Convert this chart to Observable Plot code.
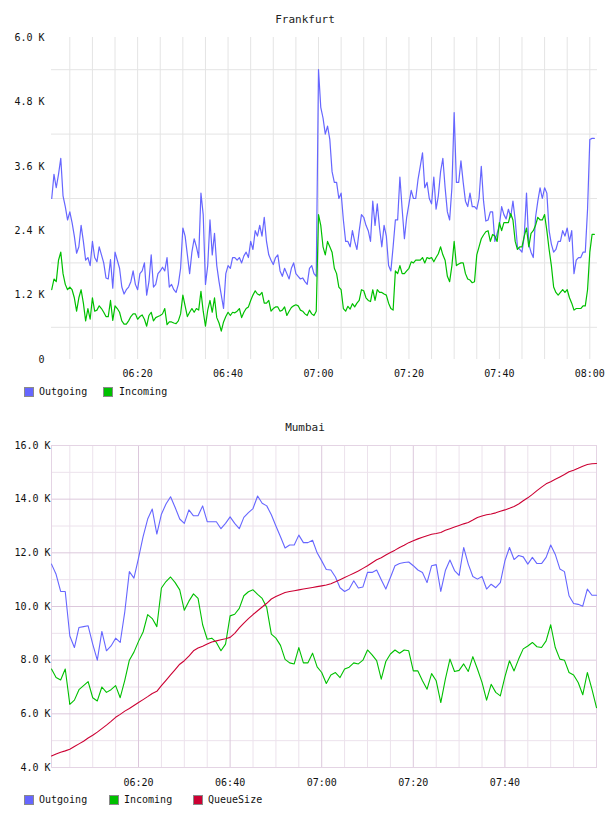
<!DOCTYPE html>
<html><head><meta charset="utf-8">
<script src="https://cdn.jsdelivr.net/npm/d3@7"></script>
<script src="https://cdn.jsdelivr.net/npm/@observablehq/plot@0.6"></script>
<style>
body{margin:0;background:#fff;width:608px;height:816px;position:relative;font-family:"DejaVu Sans Mono",monospace;color:#111;overflow:hidden}
.title{position:absolute;left:0;width:610px;text-align:center;font-size:11px;line-height:12px;color:#222}
.sw{position:absolute;width:8px;height:8px;border:1px solid #8a8a8a}
.lt{position:absolute;font-size:10px;line-height:10px;color:#111;white-space:nowrap}
.chart{position:absolute;left:0}
svg{display:block}
</style></head><body>
<div class="title" style="top:14px">Frankfurt</div>
<div class="chart" id="fra" style="top:28px"></div>
<div id="fraLegend"></div>
<div class="title" style="top:422px">Mumbai</div>
<div class="chart" id="mum" style="top:436px"></div>
<div id="mumLegend"></div>
<script>
// ---------- DATA ----------
// Frankfurt: samples every 30 s starting 06:01, values in thousands
const fraStart = "06:01";
const fraStepSeconds = 30;
const fraOutgoingK = [3.0,3.45,3.2,3.45,3.75,3.05,2.85,2.6,2.75,2.55,2.3,1.98,2.1,2.5,2.2,1.85,1.9,1.75,2.2,1.9,1.82,2.1,1.95,1.8,1.52,1.5,1.86,1.33,2.0,1.85,1.7,1.35,1.22,1.3,1.35,1.45,1.65,1.4,1.3,1.6,1.65,1.8,1.2,1.45,1.95,1.35,1.4,1.6,1.65,1.72,1.65,1.9,1.35,1.4,1.3,1.25,1.4,1.7,2.45,2.3,
1.95,1.6,2.0,2.25,2.1,1.9,3.1,2.7,1.4,1.75,2.6,1.95,2.35,1.75,1.45,1.2,0.95,1.6,1.75,1.7,1.9,1.9,1.85,1.9,1.8,1.93,2.0,1.9,2.2,2.05,2.4,2.3,2.5,2.3,2.65,2.2,1.95,1.85,1.77,1.9,1.95,1.65,1.55,1.7,1.6,1.5,1.7,1.8,1.6,1.55,1.5,1.52,1.45,1.4,1.7,1.75,1.6,1.55,
5.4,4.7,4.5,4.2,4.35,4.1,3.5,3.3,3.3,3.0,3.1,2.6,2.2,2.2,2.1,2.4,2.2,2.05,2.4,2.7,2.65,2.5,2.4,2.2,2.95,2.5,2.9,2.45,2.1,2.5,2.3,1.75,1.65,2.1,2.6,2.6,3.4,2.8,2.25,2.65,2.9,3.15,3.0,3.0,3.35,3.6,3.85,3.2,3.3,3.0,2.9,3.4,2.8,3.05,3.5,3.75,3.2,2.75,2.6,3.2,4.6,3.3,
3.3,3.7,3.3,2.95,2.85,3.1,2.85,2.85,2.8,3.0,3.6,2.95,2.58,2.6,2.75,2.75,2.2,2.35,2.5,2.85,2.7,2.62,2.8,2.65,2.95,2.6,2.1,2.05,2.0,2.3,3.1,2.15,2.0,1.9,2.65,2.95,3.2,3.0,3.2,3.1,2.4,2.15,2.0,2.05,2.2,2.2,2.4,2.3,2.45,2.2,2.4,1.6,1.85,1.9,1.9,2.0,2.0,2.8,4.1,4.12,4.12];
const fraIncomingK = [1.30,1.5,1.45,1.85,2.0,1.6,1.4,1.3,1.35,1.3,1.15,0.9,1.15,1.3,1.05,0.72,0.95,0.75,1.15,0.9,0.92,1.0,0.95,0.88,0.8,0.8,1.1,0.73,1.0,0.95,0.88,0.72,0.66,0.66,0.72,0.8,0.85,0.85,0.75,0.8,0.83,0.75,0.62,0.82,0.88,0.72,0.78,0.8,0.82,0.85,0.95,0.65,0.7,0.7,0.68,0.67,0.72,0.85,1.2,1.0,
0.8,0.88,0.95,0.88,0.95,0.92,1.27,0.9,0.62,0.92,1.1,0.88,1.15,0.78,0.68,0.53,0.7,0.8,0.88,0.82,0.88,0.87,0.9,0.95,0.78,0.88,0.95,0.98,1.1,1.2,1.28,1.22,1.2,1.25,1.05,1.05,1.1,0.9,0.95,0.98,0.98,0.9,0.92,0.98,0.82,0.9,0.97,1.0,1.02,1.0,0.92,0.9,0.85,0.82,0.92,0.85,0.82,0.9,
2.7,2.5,2.1,1.95,2.2,2.1,2.0,1.7,1.6,1.35,1.3,0.95,0.9,0.99,0.94,1.04,0.98,1.05,1.1,1.3,1.28,1.15,1.1,1.08,1.3,1.1,1.3,1.25,1.25,1.22,1.2,1.05,0.95,0.92,1.65,1.6,1.75,1.6,1.6,1.65,1.7,1.82,1.8,1.85,1.85,1.85,1.9,1.8,1.9,1.88,1.9,1.82,1.9,1.97,2.1,1.95,1.85,1.55,1.45,1.75,2.2,1.75,
1.78,1.8,1.8,1.6,1.5,1.48,1.43,1.45,1.95,2.1,2.25,2.32,2.38,2.4,2.2,2.33,2.3,2.2,2.55,2.4,2.55,2.55,2.55,2.72,2.6,2.2,2.05,2.1,2.1,2.3,2.45,2.1,2.35,2.4,2.5,2.65,2.6,2.6,2.7,2.4,2.05,1.75,1.35,1.25,1.2,1.25,1.3,1.25,1.3,1.15,1.05,0.92,0.95,0.95,0.95,1.0,1.0,1.3,2.0,2.33,2.33];

// Mumbai: samples every 60 s starting 06:01, values in thousands
const mumStart = "06:01";
const mumStepSeconds = 60;
const mumOutgoingK = [11.58,11.2,10.56,10.56,8.9,8.47,9.22,9.25,9.28,8.6,8.0,9.07,8.35,8.53,8.82,8.66,9.8,11.3,11.06,11.8,12.6,13.26,13.63,12.7,13.44,13.82,14.09,13.69,13.26,13.1,13.6,13.38,13.38,13.75,13.16,13.16,13.16,12.9,13.1,13.34,13.1,12.9,13.32,13.5,13.65,14.12,13.85,13.75,13.42,13.0,12.6,12.18,12.29,12.29,12.66,12.38,12.38,12.47,12.0,11.7,11.38,11.36,11.1,10.7,10.56,10.65,10.96,10.69,10.73,11.27,11.27,11.36,11.0,10.65,11.08,11.52,11.6,11.64,11.66,11.52,11.36,11.27,10.89,11.52,11.56,10.56,11.34,11.73,11.34,11.16,12.2,11.58,11.12,11.02,11.12,10.65,10.83,10.7,10.89,11.7,12.2,11.75,11.9,11.85,11.58,11.83,11.6,11.6,11.83,12.29,11.94,11.4,11.3,10.4,10.11,10.08,10.01,10.65,10.42,10.42];
const mumIncomingK = [7.67,7.35,7.26,7.67,6.35,6.51,6.9,7.05,7.2,6.6,6.48,7.0,6.8,6.9,7.05,6.6,7.25,8.0,8.3,8.7,9.05,9.7,9.55,9.25,10.69,10.93,11.1,10.89,10.62,9.86,10.2,10.47,10.3,9.32,8.78,8.82,8.66,8.35,8.6,9.65,9.71,9.93,10.4,10.55,10.62,10.45,10.3,9.96,8.97,8.82,8.55,8.03,7.9,7.86,8.47,7.9,7.9,8.26,7.75,7.54,7.13,7.45,7.54,7.35,7.67,7.74,7.9,7.86,8.0,8.38,8.2,7.98,7.29,7.95,8.23,8.38,8.26,8.38,8.35,7.6,7.6,7.23,6.92,7.5,7.23,6.42,7.29,8.04,7.58,7.62,7.86,7.58,8.13,7.67,7.17,6.51,7.1,6.8,6.67,7.38,7.98,7.6,8.04,8.42,8.53,8.66,8.5,8.47,8.72,9.32,8.47,8.04,8.0,7.54,7.45,7.17,6.71,7.54,6.92,6.23];
const mumQueueSizeK = [4.43,4.5,4.57,4.62,4.68,4.78,4.88,4.98,5.1,5.2,5.32,5.45,5.58,5.72,5.87,5.98,6.1,6.2,6.31,6.42,6.53,6.64,6.76,6.84,7.05,7.25,7.45,7.65,7.85,7.98,8.15,8.35,8.45,8.52,8.6,8.68,8.72,8.76,8.8,8.85,9.0,9.2,9.38,9.55,9.7,9.84,9.98,10.12,10.28,10.37,10.45,10.52,10.56,10.59,10.62,10.65,10.68,10.71,10.74,10.77,10.8,10.85,10.92,11.0,11.08,11.16,11.24,11.32,11.42,11.52,11.63,11.74,11.82,11.92,12.01,12.1,12.2,12.28,12.38,12.45,12.52,12.58,12.64,12.69,12.72,12.76,12.84,12.9,12.96,13.02,13.08,13.13,13.22,13.32,13.37,13.42,13.45,13.49,13.55,13.6,13.66,13.73,13.82,13.94,14.05,14.18,14.32,14.45,14.57,14.65,14.74,14.83,14.92,15.02,15.08,15.15,15.23,15.29,15.32,15.33];

// axis tick labels
const fraXTickLabels = ["06:20","06:40","07:00","07:20","07:40","08:00"];
const mumXTickLabels = ["06:20","06:40","07:00","07:20","07:40"];
const fraYTicksK = [0,1.2,2.4,3.6,4.8,6.0];
const fraYGridK = [0.6,1.8,3.0,4.2,5.4];
const mumYTicksK = [4,6,8,10,12,14,16];
const mumYMinorK = [5,7,9,11,13,15];

// series names and colours
const fraSeries = ["Outgoing","Incoming"];
const mumSeries = ["Outgoing","Incoming","QueueSize"];
const seriesColor = {Outgoing:"#6666ff", Incoming:"#00c000", QueueSize:"#cc0033"};

// ---------- HELPERS ----------
const hm = s => { const [h,m,sec] = s.split(":").map(Number); return new Date(Date.UTC(2024,0,1,h,m,sec||0)); };
const series = (start, stepSec, vals) => vals.map((v,i) => ({t: new Date(hm(start).getTime() + i*stepSec*1000), v}));
const fmtK = d => d === 0 ? "0" : d.toFixed(1) + " K";
const fmtT = d3.utcFormat("%H:%M");
const font = {fontFamily:"DejaVu Sans Mono, monospace", fontSize:"10px", color:"#111", background:"white", overflow:"visible"};

// ---------- FRANKFURT ----------
const fraOut = series(fraStart, fraStepSeconds, fraOutgoingK);
const fraIn = series(fraStart, fraStepSeconds, fraIncomingK);
const fraDomain = [hm("06:00:57"), hm("08:01:42")];
const fraGridX = d3.utcMinute.every(5).range(fraDomain[0], fraDomain[1]);
const fra = Plot.plot({
  width:608, height:356, marginLeft:51, marginRight:11, marginTop:9, marginBottom:25,
  style:font,
  x:{type:"utc", domain:fraDomain},
  y:{domain:[0,6]},
  marks:[
    Plot.ruleX(fraGridX, {stroke:"#e4e4e4", strokeWidth:1}),
    Plot.ruleY(fraYGridK, {stroke:"#e4e4e4", strokeWidth:1}),
    Plot.axisY({ticks:fraYTicksK, tickSize:0, tickPadding:7, tickFormat:fmtK, label:null}),
    Plot.axisX({ticks:fraXTickLabels.map(hm), tickSize:0, tickPadding:10, tickFormat:fmtT, label:null}),
    Plot.line(fraOut, {x:"t", y:"v", stroke:seriesColor.Outgoing, strokeWidth:1.2}),
    Plot.line(fraIn, {x:"t", y:"v", stroke:seriesColor.Incoming, strokeWidth:1.2})
  ]
});
document.getElementById("fra").append(fra);

// ---------- MUMBAI ----------
const mumOut = series(mumStart, mumStepSeconds, mumOutgoingK);
const mumIn = series(mumStart, mumStepSeconds, mumIncomingK);
const mumQ = series(mumStart, mumStepSeconds, mumQueueSizeK);
const mumDomain = [hm("06:01"), hm("08:00")];
const mumGridAll = d3.utcMinute.every(5).range(hm("06:05"), mumDomain[1]);
const mumMajor = mumGridAll.filter(d => d.getUTCMinutes() % 20 === 0);
const mumMinor = mumGridAll.filter(d => d.getUTCMinutes() % 20 !== 0);
const mum = Plot.plot({
  width:608, height:352, marginLeft:51, marginRight:12, marginTop:9, marginBottom:21,
  style:font,
  x:{type:"utc", domain:mumDomain},
  y:{domain:[4,16]},
  marks:[
    Plot.ruleX(mumMinor, {stroke:"#ece2ec"}),
    Plot.ruleY(mumYMinorK, {stroke:"#ece2ec"}),
    Plot.ruleX(mumMajor, {stroke:"#dcc8dc"}),
    Plot.ruleY(mumYTicksK.slice(1,-1), {stroke:"#dcc8dc"}),
    Plot.frame({stroke:"#e4d4e4"}),
    Plot.axisY({ticks:mumYTicksK, tickSize:0, tickPadding:1, tickFormat:fmtK, label:null}),
    Plot.axisX({ticks:mumXTickLabels.map(hm), tickSize:0, tickPadding:11, tickFormat:fmtT, label:null}),
    Plot.line(mumOut, {x:"t", y:"v", stroke:seriesColor.Outgoing, strokeWidth:1.1}),
    Plot.line(mumIn, {x:"t", y:"v", stroke:seriesColor.Incoming, strokeWidth:1.1}),
    Plot.line(mumQ, {x:"t", y:"v", stroke:seriesColor.QueueSize, strokeWidth:1.1})
  ]
});
document.getElementById("mum").append(mum);

// ---------- LEGENDS ----------
function legend(el, names, top, swX, txX) {
  names.forEach((n,i) => {
    const s = document.createElement("div");
    s.className = "sw"; s.style.left = swX[i]+"px"; s.style.top = top+"px"; s.style.background = seriesColor[n];
    const t = document.createElement("div");
    t.className = "lt"; t.style.left = txX[i]+"px"; t.style.top = (top)+"px"; t.textContent = n;
    el.append(s, t);
  });
}
legend(document.getElementById("fraLegend"), fraSeries, 387, [24,103], [39,119]);
legend(document.getElementById("mumLegend"), mumSeries, 795, [24,109,193], [39,124,208]);
</script>
</body></html>
